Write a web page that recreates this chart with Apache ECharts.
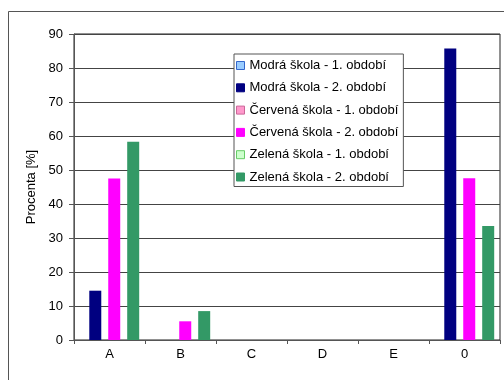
<!DOCTYPE html>
<html>
<head>
<meta charset="utf-8">
<script src="https://cdn.jsdelivr.net/npm/echarts@6/dist/echarts.min.js"></script>
<style>
  html, body { margin: 0; padding: 0; background: #fff; }
  #chart { width: 504px; height: 380px; }
</style>
</head>
<body>
<div id="chart"></div>
<script>
// Categories on the x axis
const categories = ['A', 'B', 'C', 'D', 'E', '0'];

// Share of pupils in percent, per school and term (null = no bar)
const modra1 = [null, null, null, null, null, null];
const modra2 = [14.5, null, null, null, null, 85.7];
const cervena1 = [null, null, null, null, null, null];
const cervena2 = [47.5, 5.5, null, null, null, 47.6];
const zelena1 = [null, null, null, null, null, null];
const zelena2 = [58.3, 8.5, null, null, null, 33.5];

const seriesNames = [
  'Modrá škola - 1. období',
  'Modrá škola - 2. období',
  'Červená škola - 1. období',
  'Červená škola - 2. období',
  'Zelená škola - 1. období',
  'Zelená škola - 2. období'
];
const seriesData = [modra1, modra2, cervena1, cervena2, zelena1, zelena2];
const fills = ['#99CCFF', '#000080', '#FF99CC', '#FF00FF', '#CCFFCC', '#339966'];
const edges = ['#3366CC', '#000080', '#CC6699', '#FF00FF', '#66CC66', '#339966'];

const font = 'Liberation Sans, Arial, sans-serif';

const chart = echarts.init(document.getElementById('chart'), null, { renderer: 'canvas' });

chart.setOption({
  animation: false,
  backgroundColor: '#fff',
  textStyle: { fontFamily: font },
  graphic: [{
    type: 'rect',
    shape: { x: 8.5, y: 11.5, width: 600, height: 500 },
    style: { fill: 'none', stroke: '#555', lineWidth: 1 },
    silent: true,
    z: -10
  }],
  grid: {
    left: 74, right: 4, top: 34, bottom: 40,
    show: true, borderColor: '#222', borderWidth: 1,
    containLabel: false
  },
  legend: {
    orient: 'vertical',
    left: 234, top: 54,
    padding: [5, 5, 3, 2],
    itemWidth: 8, itemHeight: 8, itemGap: 9.3,
    backgroundColor: '#fff',
    borderColor: '#555', borderWidth: 1,
    textStyle: { fontFamily: font, fontSize: 13, color: '#000' },
    data: seriesNames.map((n, i) => ({
      name: n, icon: 'rect',
      itemStyle: { color: fills[i], borderColor: edges[i], borderWidth: 1 }
    }))
  },
  xAxis: {
    type: 'category',
    data: categories,
    axisLine: { lineStyle: { color: '#555' } },
    axisTick: { show: true, length: 4, inside: false, lineStyle: { color: '#555' } },
    axisLabel: { color: '#000', fontSize: 13, fontFamily: font, margin: 8 },
    splitLine: { show: false }
  },
  yAxis: {
    type: 'value',
    min: 0, max: 90, interval: 10,
    name: 'Procenta [%]',
    nameLocation: 'middle',
    nameGap: 29,
    nameTextStyle: { color: '#000', fontSize: 13, fontFamily: font },
    axisLine: { show: true, lineStyle: { color: '#555' } },
    axisTick: { show: true, length: 5, lineStyle: { color: '#555' } },
    axisLabel: { color: '#000', fontSize: 13, fontFamily: font, margin: 11 },
    splitLine: { show: true, lineStyle: { color: '#444', width: 1 } }
  },
  series: seriesNames.map((n, i) => ({
    name: n,
    type: 'bar',
    data: seriesData[i],
    barWidth: 12,
    barGap: '-21%',
    itemStyle: { color: fills[i] }
  }))
});
</script>
</body>
</html>
